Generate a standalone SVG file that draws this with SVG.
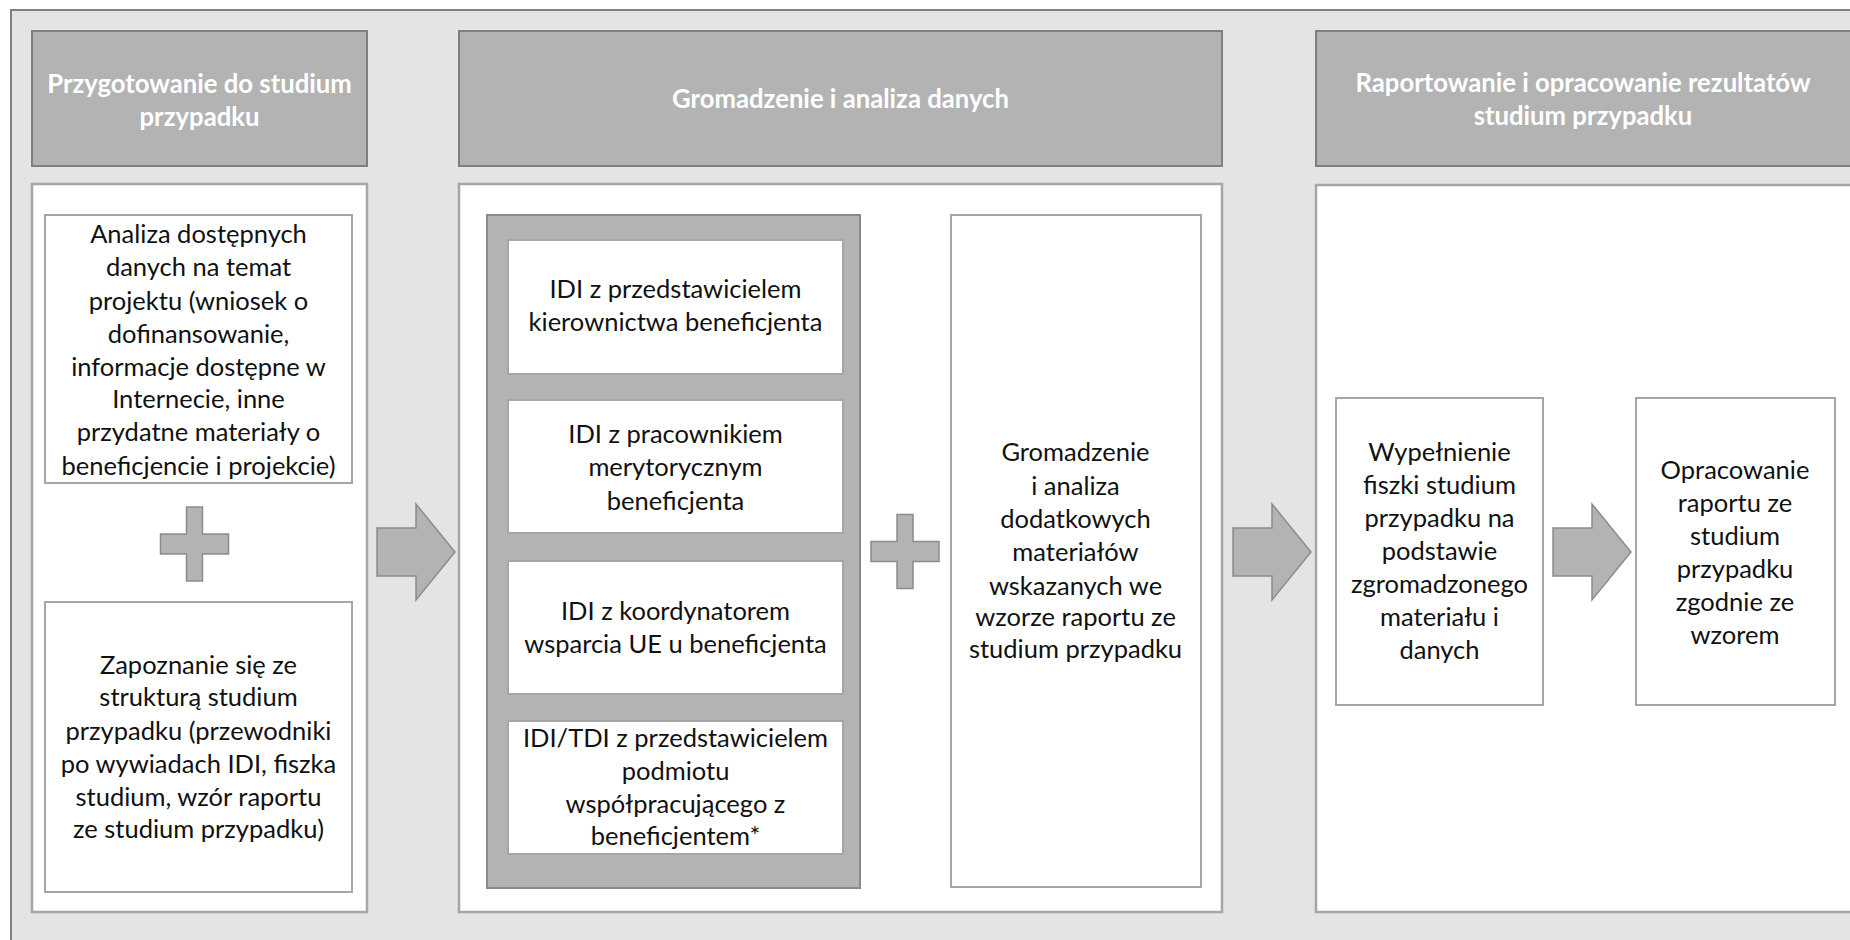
<svg xmlns="http://www.w3.org/2000/svg" xmlns:xlink="http://www.w3.org/1999/xlink" width="1850" height="940" viewBox="0 0 1850 940">
<style>
.hdr{fill:#b3b3b3;stroke:#7f7f7f;stroke-width:2}
.panel{fill:#ffffff;stroke:#a6a6a6;stroke-width:2.5}
.box{fill:#ffffff;stroke:#a6a6a6;stroke-width:2}
.cont{fill:#b3b3b3;stroke:#8a8a8a;stroke-width:2}
.sym{fill:#b3b3b3;stroke:#8c8c8c;stroke-width:1.5}
.ht{font-family:Lato,"Liberation Sans",sans-serif;font-weight:bold;font-size:25.7px;fill:#ffffff;text-anchor:middle}
.t{font-family:Lato,"Liberation Sans",sans-serif;font-size:25.5px;fill:#111111;text-anchor:middle}
</style>
<defs>
<path id="arrow" d="M0 -24 H39 V-48 L78 0 L39 48 V24 H0 Z"/>
<path id="plus" d="M-8 -37 H8 V-10 H34 V10 H8 V37 H-8 V10 H-34 V-10 H-8 Z"/>
</defs>
<rect x="11" y="10" width="1850" height="940" fill="#e4e4e4" stroke="#808080" stroke-width="2"/>

<g id="header1">
<rect class="hdr" x="32" y="31" width="335" height="135"/>
<text class="ht" x="199.5" y="93">Przygotowanie do studium</text>
<text class="ht" x="199.5" y="126">przypadku</text>
</g>
<g id="panel1"><rect class="panel" x="32" y="184" width="335" height="728"/></g>
<g id="boxA">
<rect class="box" x="45" y="215" width="307" height="268"/>
<text class="t" x="198.5" y="243">Analiza dostępnych</text>
<text class="t" x="198.5" y="276">danych na temat</text>
<text class="t" x="198.5" y="310">projektu (wniosek o</text>
<text class="t" x="198.5" y="343">dofinansowanie,</text>
<text class="t" x="198.5" y="376">informacje dostępne w</text>
<text class="t" x="198.5" y="408">Internecie, inne</text>
<text class="t" x="198.5" y="441">przydatne materiały o</text>
<text class="t" x="198.5" y="475">beneficjencie i projekcie)</text>
</g>
<g id="boxB">
<rect class="box" x="45" y="602" width="307" height="290"/>
<text class="t" x="198.5" y="674">Zapoznanie się ze</text>
<text class="t" x="198.5" y="706">strukturą studium</text>
<text class="t" x="198.5" y="740">przypadku (przewodniki</text>
<text class="t" x="198.5" y="773">po wywiadach IDI, fiszka</text>
<text class="t" x="198.5" y="806">studium, wzór raportu</text>
<text class="t" x="198.5" y="838">ze studium przypadku)</text>
</g>

<g id="header2">
<rect class="hdr" x="459" y="31" width="763" height="135"/>
<text class="ht" x="840.5" y="108">Gromadzenie i analiza danych</text>
</g>
<g id="panel2"><rect class="panel" x="459" y="184" width="763" height="728"/></g>
<g id="idiGroup"><rect class="cont" x="487" y="215" width="373" height="673"/></g>
<g id="idi1">
<rect class="box" x="508" y="240" width="335" height="134"/>
<text class="t" x="675.5" y="298">IDI z przedstawicielem</text>
<text class="t" x="675.5" y="331">kierownictwa beneficjenta</text>
</g>
<g id="idi2">
<rect class="box" x="508" y="400" width="335" height="133"/>
<text class="t" x="675.5" y="443">IDI z pracownikiem</text>
<text class="t" x="675.5" y="476">merytorycznym</text>
<text class="t" x="675.5" y="510">beneficjenta</text>
</g>
<g id="idi3">
<rect class="box" x="508" y="561" width="335" height="133"/>
<text class="t" x="675.5" y="620">IDI z koordynatorem</text>
<text class="t" x="675.5" y="653">wsparcia UE u beneficjenta</text>
</g>
<g id="idi4">
<rect class="box" x="508" y="721" width="335" height="133"/>
<text class="t" x="675.5" y="747">IDI/TDI z przedstawicielem</text>
<text class="t" x="675.5" y="780">podmiotu</text>
<text class="t" x="675.5" y="813">współpracującego z</text>
<text class="t" x="675.5" y="845">beneficjentem*</text>
</g>
<g id="boxC">
<rect class="box" x="951" y="215" width="250" height="672"/>
<text class="t" x="1075.5" y="461">Gromadzenie</text>
<text class="t" x="1075.5" y="495">i analiza</text>
<text class="t" x="1075.5" y="528">dodatkowych</text>
<text class="t" x="1075.5" y="561">materiałów</text>
<text class="t" x="1075.5" y="595">wskazanych we</text>
<text class="t" x="1075.5" y="626">wzorze raportu ze</text>
<text class="t" x="1075.5" y="658">studium przypadku</text>
</g>

<g id="header3">
<rect class="hdr" x="1316" y="31" width="560" height="135"/>
<text class="ht" x="1583" y="92">Raportowanie i opracowanie rezultatów</text>
<text class="ht" x="1583" y="125">studium przypadku</text>
</g>
<g id="panel3"><rect class="panel" x="1316" y="185" width="560" height="727"/></g>
<g id="boxD">
<rect class="box" x="1336" y="398" width="207" height="307"/>
<text class="t" x="1439.5" y="461">Wypełnienie</text>
<text class="t" x="1439.5" y="494">fiszki studium</text>
<text class="t" x="1439.5" y="527">przypadku na</text>
<text class="t" x="1439.5" y="560">podstawie</text>
<text class="t" x="1439.5" y="593">zgromadzonego</text>
<text class="t" x="1439.5" y="626">materiału i</text>
<text class="t" x="1439.5" y="659">danych</text>
</g>
<g id="boxE">
<rect class="box" x="1636" y="398" width="199" height="307"/>
<text class="t" x="1735" y="479">Opracowanie</text>
<text class="t" x="1735" y="512">raportu ze</text>
<text class="t" x="1735" y="545">studium</text>
<text class="t" x="1735" y="578">przypadku</text>
<text class="t" x="1735" y="611">zgodnie ze</text>
<text class="t" x="1735" y="644">wzorem</text>
</g>

<g id="operators">
<use xlink:href="#plus" class="sym" transform="translate(194.5 544)"/>
<use xlink:href="#plus" class="sym" transform="translate(905 551.5)"/>
</g>
<g id="connectors">
<use xlink:href="#arrow" class="sym" transform="translate(377 552)"/>
<use xlink:href="#arrow" class="sym" transform="translate(1233 552)"/>
<use xlink:href="#arrow" class="sym" transform="translate(1553 552)"/>
</g>
</svg>
